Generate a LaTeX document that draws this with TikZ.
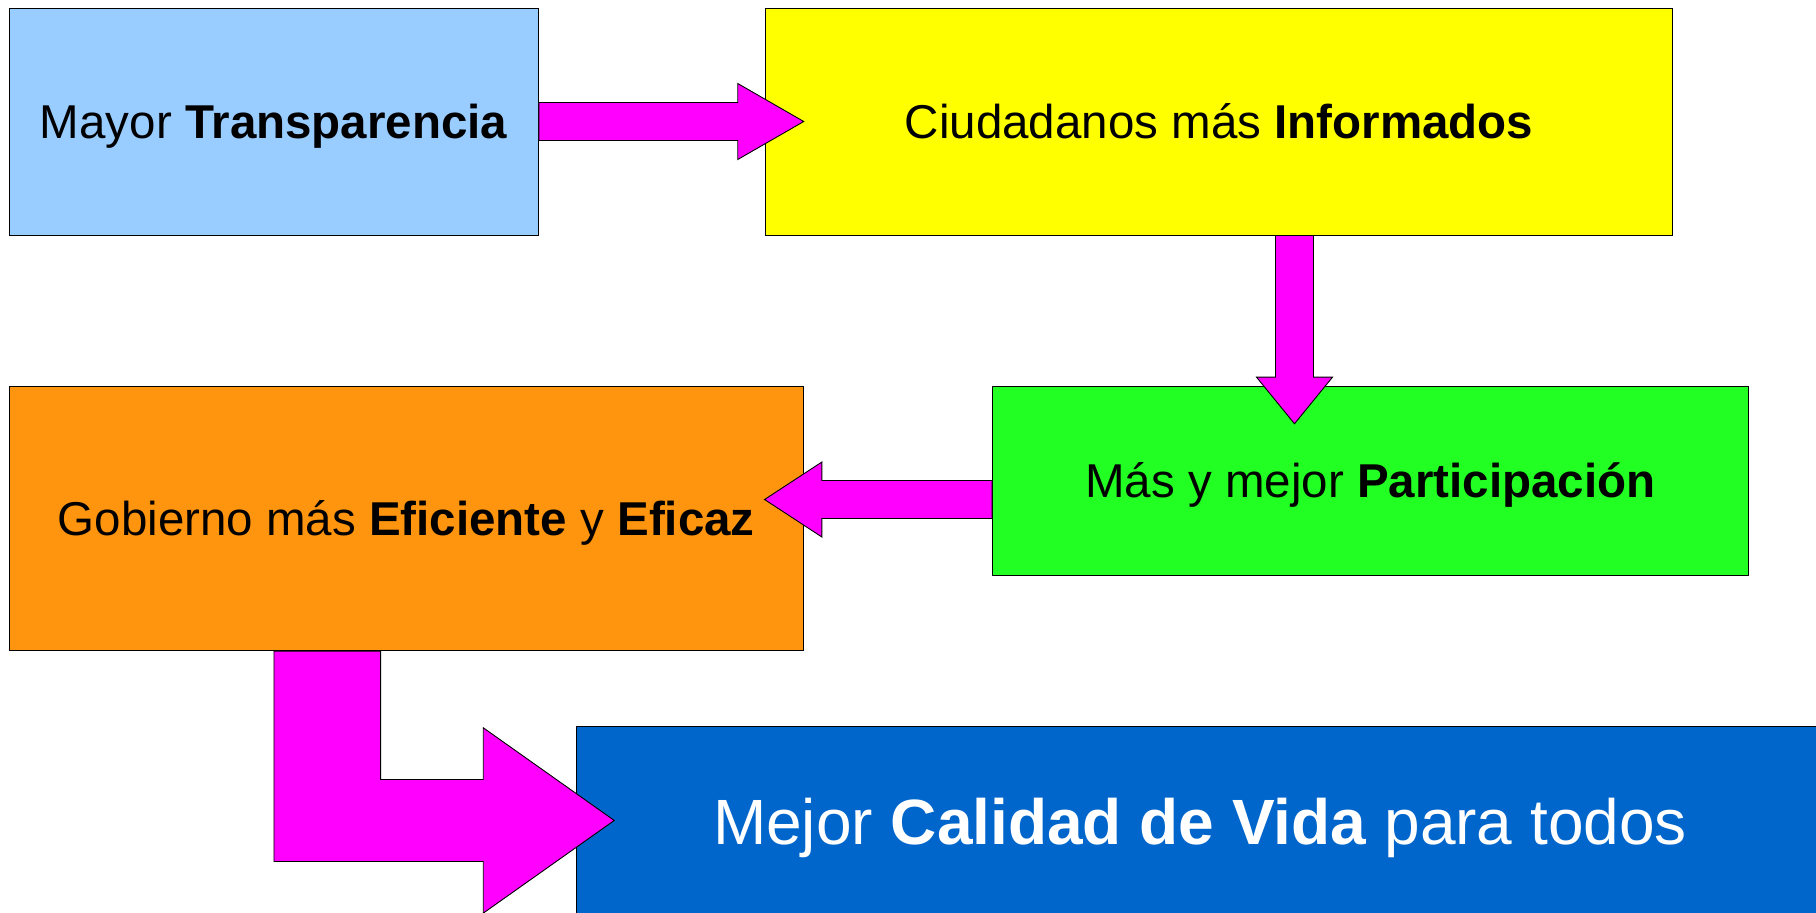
\documentclass[tikz,border=0pt]{standalone}
\usepackage{fontspec}
\setmainfont{Liberation Sans}
\usetikzlibrary{calc}
\definecolor{cLightBlue}{HTML}{99CCFF}
\definecolor{cYellow}{HTML}{FFFF00}
\definecolor{cGreen}{HTML}{22FF22}
\definecolor{cOrange}{HTML}{FF950E}
\definecolor{cBlue}{HTML}{0066CC}
\definecolor{cMagenta}{HTML}{FF00FF}
\tikzset{
  box/.style={draw=black, line width=0.9pt, inner sep=0pt, anchor=center,
    font=\fontsize{47.5}{57}\selectfont, text height=34pt, text depth=0pt},
  bigbox/.style={box, font=\fontsize{64}{77}\selectfont, text height=45.8pt, text=white},
  bigarrow/.style={draw=black, line width=0.9pt, fill=cMagenta, line join=miter}
}
\begin{document}
\begin{tikzpicture}[x=1pt, y=-1pt]
\useasboundingbox (0,0) rectangle (1816,913);
% boxes
\node[box, fill=cLightBlue, minimum width=529.5pt, minimum height=227pt]
  (tr) at (273.75,121.5) {Mayor \textbf{Transparencia}};
\node[box, fill=cYellow, minimum width=906.8pt, minimum height=226.5pt]
  (inf) at (1219,121.75) {Ciudadanos más \textbf{Informados}};
\node[box, fill=cGreen, minimum width=755.8pt, minimum height=189pt]
  (par) at (1370.4,480.5) {Más y mejor \textbf{Participación}};
\node[box, fill=cOrange, minimum width=794.3pt, minimum height=264.7pt]
  (gob) at (406.15,518.35) {Gobierno más \textbf{Eficiente} y \textbf{Eficaz}};
\node[bigbox, fill=cBlue, minimum width=1248pt, minimum height=189.3pt]
  (cal) at (1200,821.35) {Mejor \textbf{Calidad de Vida} para todos};
% arrows
\draw[bigarrow] ($(tr.east)+(0,-19)$) -- ++(198.8,0) -- ++(0,-19) -- ++(66,38)
  -- ++(-66,38) -- ++(0,-19) -- ++(-198.8,0) -- cycle;
\draw[bigarrow] ($(inf.south)+(56.5,0)$) -- ++(0,141.7) -- ++(-19,0) -- ++(38,46.6)
  -- ++(38,-46.6) -- ++(-19,0) -- ++(0,-141.7) -- cycle;
\draw[bigarrow] (par.west) -- ++(-170.2,0) -- ++(0,-18.5) -- ++(-57.3,37.5)
  -- ++(57.3,37.5) -- ++(0,-18.5) -- ++(170.2,0) -- cycle;
\draw[bigarrow] ($(gob.south)+(-132.2,0)$) -- ++(106.7,0) -- ++(0,128.3) -- ++(102.6,0)
  -- ++(0,-51.7) -- ++(131,92.7) -- ++(-131,92.7) -- ++(0,-51.7) -- ++(-209.3,0) -- cycle;
\end{tikzpicture}
\end{document}
